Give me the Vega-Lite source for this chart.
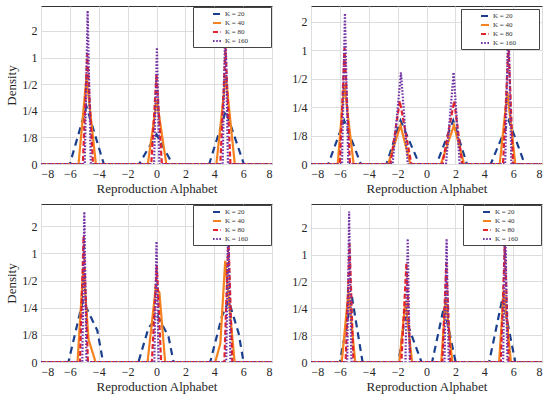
{
  "$schema": "https://vega.github.io/schema/vega-lite/v6.json",
  "background": "white",
  "padding": 5,
  "config": {
    "font": "Liberation Serif",
    "view": {"stroke": "#333333", "strokeWidth": 1},
    "axis": {
      "labelFont": "Liberation Serif", "titleFont": "Liberation Serif",
      "labelFontSize": 12, "titleFontSize": 13, "titleFontWeight": "normal",
      "labelColor": "#262626", "titleColor": "#262626",
      "gridColor": "#dddddd", "gridWidth": 1,
      "domain": false, "ticks": false, "labelPadding": 4, "titlePadding": 3
    },
    "legend": {
      "orient": "top-right", "offset": 1, "title": null,
      "fillColor": "white", "strokeColor": "#444444",
      "padding": 2, "rowPadding": 0,
      "symbolType": "stroke", "symbolStrokeWidth": 2, "symbolSize": 64,
      "labelFont": "Liberation Serif", "labelFontSize": 7, "labelColor": "#333333"
    }
  },
  "datasets": {
    "d": [
      {"p":"a","k":"K = 20","x":-8,"d":0},{"p":"a","k":"K = 20","x":-6.0,"d":0},{"p":"a","k":"K = 20","x":-4.85,"d":0.28},{"p":"a","k":"K = 20","x":-3.65,"d":0},{"p":"a","k":"K = 20","x":-1.2,"d":0},{"p":"a","k":"K = 20","x":0.0,"d":0.135},{"p":"a","k":"K = 20","x":1.1,"d":0},{"p":"a","k":"K = 20","x":3.65,"d":0},{"p":"a","k":"K = 20","x":4.8,"d":0.25},{"p":"a","k":"K = 20","x":6.05,"d":0},{"p":"a","k":"K = 20","x":8,"d":0},
      {"p":"a","k":"K = 40","x":-8,"d":0},{"p":"a","k":"K = 40","x":-5.4,"d":0},{"p":"a","k":"K = 40","x":-4.85,"d":0.6},{"p":"a","k":"K = 40","x":-4.2,"d":0},{"p":"a","k":"K = 40","x":-0.6,"d":0},{"p":"a","k":"K = 40","x":0.02,"d":0.33},{"p":"a","k":"K = 40","x":0.68,"d":0},{"p":"a","k":"K = 40","x":4.15,"d":0},{"p":"a","k":"K = 40","x":4.8,"d":0.62},{"p":"a","k":"K = 40","x":5.42,"d":0},{"p":"a","k":"K = 40","x":8,"d":0},
      {"p":"a","k":"K = 80","x":-8,"d":0},{"p":"a","k":"K = 80","x":-5.1,"d":0},{"p":"a","k":"K = 80","x":-4.8,"d":1.1},{"p":"a","k":"K = 80","x":-4.4,"d":0},{"p":"a","k":"K = 80","x":-0.36,"d":0},{"p":"a","k":"K = 80","x":0.0,"d":0.65},{"p":"a","k":"K = 80","x":0.37,"d":0},{"p":"a","k":"K = 80","x":4.42,"d":0},{"p":"a","k":"K = 80","x":4.78,"d":1.3},{"p":"a","k":"K = 80","x":5.12,"d":0},{"p":"a","k":"K = 80","x":8,"d":0},
      {"p":"a","k":"K = 160","x":-8,"d":0},{"p":"a","k":"K = 160","x":-4.97,"d":0},{"p":"a","k":"K = 160","x":-4.77,"d":3.4},{"p":"a","k":"K = 160","x":-4.55,"d":0},{"p":"a","k":"K = 160","x":-0.17,"d":0},{"p":"a","k":"K = 160","x":0.03,"d":1.3},{"p":"a","k":"K = 160","x":0.2,"d":0},{"p":"a","k":"K = 160","x":4.58,"d":0},{"p":"a","k":"K = 160","x":4.77,"d":3.0},{"p":"a","k":"K = 160","x":4.95,"d":0},{"p":"a","k":"K = 160","x":8,"d":0},

      {"p":"b","k":"K = 20","x":-8,"d":0},{"p":"b","k":"K = 20","x":-6.8,"d":0},{"p":"b","k":"K = 20","x":-5.7,"d":0.18},{"p":"b","k":"K = 20","x":-4.55,"d":0},{"p":"b","k":"K = 20","x":-2.77,"d":0},{"p":"b","k":"K = 20","x":-1.8,"d":0.18},{"p":"b","k":"K = 20","x":-0.5,"d":0},{"p":"b","k":"K = 20","x":0.7,"d":0},{"p":"b","k":"K = 20","x":1.85,"d":0.18},{"p":"b","k":"K = 20","x":2.8,"d":0},{"p":"b","k":"K = 20","x":4.45,"d":0},{"p":"b","k":"K = 20","x":5.7,"d":0.18},{"p":"b","k":"K = 20","x":6.8,"d":0},{"p":"b","k":"K = 20","x":8,"d":0},
      {"p":"b","k":"K = 40","x":-8,"d":0},{"p":"b","k":"K = 40","x":-6.15,"d":0},{"p":"b","k":"K = 40","x":-5.7,"d":0.44},{"p":"b","k":"K = 40","x":-5.05,"d":0},{"p":"b","k":"K = 40","x":-2.65,"d":0},{"p":"b","k":"K = 40","x":-1.8,"d":0.16},{"p":"b","k":"K = 40","x":-1.12,"d":0},{"p":"b","k":"K = 40","x":1.0,"d":0},{"p":"b","k":"K = 40","x":1.9,"d":0.16},{"p":"b","k":"K = 40","x":2.6,"d":0},{"p":"b","k":"K = 40","x":5.07,"d":0},{"p":"b","k":"K = 40","x":5.6,"d":0.36},{"p":"b","k":"K = 40","x":6.15,"d":0},{"p":"b","k":"K = 40","x":8,"d":0},
      {"p":"b","k":"K = 80","x":-8,"d":0},{"p":"b","k":"K = 80","x":-6.0,"d":0},{"p":"b","k":"K = 80","x":-5.68,"d":1.05},{"p":"b","k":"K = 80","x":-5.3,"d":0},{"p":"b","k":"K = 80","x":-2.5,"d":0},{"p":"b","k":"K = 80","x":-1.85,"d":0.29},{"p":"b","k":"K = 80","x":-1.05,"d":0},{"p":"b","k":"K = 80","x":1.1,"d":0},{"p":"b","k":"K = 80","x":1.92,"d":0.29},{"p":"b","k":"K = 80","x":2.47,"d":0},{"p":"b","k":"K = 80","x":5.3,"d":0},{"p":"b","k":"K = 80","x":5.68,"d":1.1},{"p":"b","k":"K = 80","x":6.0,"d":0},{"p":"b","k":"K = 80","x":8,"d":0},
      {"p":"b","k":"K = 160","x":-8,"d":0},{"p":"b","k":"K = 160","x":-5.85,"d":0},{"p":"b","k":"K = 160","x":-5.65,"d":2.44},{"p":"b","k":"K = 160","x":-5.42,"d":0},{"p":"b","k":"K = 160","x":-2.35,"d":0},{"p":"b","k":"K = 160","x":-1.77,"d":0.58},{"p":"b","k":"K = 160","x":-1.3,"d":0},{"p":"b","k":"K = 160","x":1.35,"d":0},{"p":"b","k":"K = 160","x":1.88,"d":0.58},{"p":"b","k":"K = 160","x":2.3,"d":0},{"p":"b","k":"K = 160","x":5.45,"d":0},{"p":"b","k":"K = 160","x":5.67,"d":2.4},{"p":"b","k":"K = 160","x":5.88,"d":0},{"p":"b","k":"K = 160","x":8,"d":0},

      {"p":"c","k":"K = 20","x":-8,"d":0},{"p":"c","k":"K = 20","x":-6.1,"d":0},{"p":"c","k":"K = 20","x":-5.1,"d":0.3},{"p":"c","k":"K = 20","x":-4.1,"d":0.14},{"p":"c","k":"K = 20","x":-3.7,"d":0},{"p":"c","k":"K = 20","x":-1.25,"d":0},{"p":"c","k":"K = 20","x":-0.55,"d":0.15},{"p":"c","k":"K = 20","x":0.1,"d":0.2},{"p":"c","k":"K = 20","x":0.83,"d":0.12},{"p":"c","k":"K = 20","x":1.18,"d":0},{"p":"c","k":"K = 20","x":3.72,"d":0},{"p":"c","k":"K = 20","x":4.53,"d":0.2},{"p":"c","k":"K = 20","x":5.0,"d":0.3},{"p":"c","k":"K = 20","x":5.69,"d":0.13},{"p":"c","k":"K = 20","x":6.03,"d":0},{"p":"c","k":"K = 20","x":8,"d":0},
      {"p":"c","k":"K = 40","x":-8,"d":0},{"p":"c","k":"K = 40","x":-5.47,"d":0},{"p":"c","k":"K = 40","x":-5.07,"d":0.7},{"p":"c","k":"K = 40","x":-4.7,"d":0.11},{"p":"c","k":"K = 40","x":-4.22,"d":0},{"p":"c","k":"K = 40","x":-0.62,"d":0},{"p":"c","k":"K = 40","x":-0.05,"d":0.42},{"p":"c","k":"K = 40","x":0.2,"d":0.37},{"p":"c","k":"K = 40","x":0.6,"d":0},{"p":"c","k":"K = 40","x":4.07,"d":0},{"p":"c","k":"K = 40","x":4.42,"d":0.1},{"p":"c","k":"K = 40","x":4.76,"d":0.83},{"p":"c","k":"K = 40","x":5.41,"d":0},{"p":"c","k":"K = 40","x":8,"d":0},
      {"p":"c","k":"K = 80","x":-8,"d":0},{"p":"c","k":"K = 80","x":-5.3,"d":0},{"p":"c","k":"K = 80","x":-5.05,"d":1.55},{"p":"c","k":"K = 80","x":-4.75,"d":0},{"p":"c","k":"K = 80","x":-0.32,"d":0},{"p":"c","k":"K = 80","x":0.02,"d":0.73},{"p":"c","k":"K = 80","x":0.32,"d":0},{"p":"c","k":"K = 80","x":4.7,"d":0},{"p":"c","k":"K = 80","x":4.98,"d":1.5},{"p":"c","k":"K = 80","x":5.25,"d":0},{"p":"c","k":"K = 80","x":8,"d":0},
      {"p":"c","k":"K = 160","x":-8,"d":0},{"p":"c","k":"K = 160","x":-5.14,"d":0},{"p":"c","k":"K = 160","x":-5.0,"d":2.9},{"p":"c","k":"K = 160","x":-4.85,"d":0},{"p":"c","k":"K = 160","x":-0.15,"d":0},{"p":"c","k":"K = 160","x":0.0,"d":1.36},{"p":"c","k":"K = 160","x":0.15,"d":0},{"p":"c","k":"K = 160","x":4.83,"d":0},{"p":"c","k":"K = 160","x":4.97,"d":2.9},{"p":"c","k":"K = 160","x":5.12,"d":0},{"p":"c","k":"K = 160","x":8,"d":0},

      {"p":"d","k":"K = 20","x":-8,"d":0},{"p":"d","k":"K = 20","x":-6.0,"d":0},{"p":"d","k":"K = 20","x":-5.17,"d":0.34},{"p":"d","k":"K = 20","x":-4.43,"d":0},{"p":"d","k":"K = 20","x":-1.93,"d":0},{"p":"d","k":"K = 20","x":-1.5,"d":0.2},{"p":"d","k":"K = 20","x":-0.35,"d":0},{"p":"d","k":"K = 20","x":0.39,"d":0},{"p":"d","k":"K = 20","x":1.21,"d":0.26},{"p":"d","k":"K = 20","x":2.02,"d":0},{"p":"d","k":"K = 20","x":4.34,"d":0},{"p":"d","k":"K = 20","x":5.27,"d":0.33},{"p":"d","k":"K = 20","x":6.15,"d":0},{"p":"d","k":"K = 20","x":8,"d":0},
      {"p":"d","k":"K = 40","x":-8,"d":0},{"p":"d","k":"K = 40","x":-5.87,"d":0},{"p":"d","k":"K = 40","x":-5.4,"d":0.39},{"p":"d","k":"K = 40","x":-4.94,"d":0},{"p":"d","k":"K = 40","x":-1.88,"d":0},{"p":"d","k":"K = 40","x":-1.46,"d":0.3},{"p":"d","k":"K = 40","x":-1.0,"d":0},{"p":"d","k":"K = 40","x":1.02,"d":0},{"p":"d","k":"K = 40","x":1.33,"d":0.32},{"p":"d","k":"K = 40","x":1.79,"d":0},{"p":"d","k":"K = 40","x":5.03,"d":0},{"p":"d","k":"K = 40","x":5.35,"d":0.4},{"p":"d","k":"K = 40","x":5.85,"d":0},{"p":"d","k":"K = 40","x":8,"d":0},
      {"p":"d","k":"K = 80","x":-8,"d":0},{"p":"d","k":"K = 80","x":-5.6,"d":0},{"p":"d","k":"K = 80","x":-5.33,"d":1.32},{"p":"d","k":"K = 80","x":-5.06,"d":0},{"p":"d","k":"K = 80","x":-1.74,"d":0},{"p":"d","k":"K = 80","x":-1.39,"d":0.8},{"p":"d","k":"K = 80","x":-1.11,"d":0},{"p":"d","k":"K = 80","x":1.1,"d":0},{"p":"d","k":"K = 80","x":1.37,"d":0.8},{"p":"d","k":"K = 80","x":1.65,"d":0},{"p":"d","k":"K = 80","x":5.15,"d":0},{"p":"d","k":"K = 80","x":5.42,"d":1.3},{"p":"d","k":"K = 80","x":5.7,"d":0},{"p":"d","k":"K = 80","x":8,"d":0},
      {"p":"d","k":"K = 160","x":-8,"d":0},{"p":"d","k":"K = 160","x":-5.49,"d":0},{"p":"d","k":"K = 160","x":-5.36,"d":3.03},{"p":"d","k":"K = 160","x":-5.2,"d":0},{"p":"d","k":"K = 160","x":-1.46,"d":0},{"p":"d","k":"K = 160","x":-1.3,"d":1.5},{"p":"d","k":"K = 160","x":-1.16,"d":0},{"p":"d","k":"K = 160","x":1.25,"d":0},{"p":"d","k":"K = 160","x":1.39,"d":1.5},{"p":"d","k":"K = 160","x":1.54,"d":0},{"p":"d","k":"K = 160","x":5.31,"d":0},{"p":"d","k":"K = 160","x":5.45,"d":3.0},{"p":"d","k":"K = 160","x":5.6,"d":0},{"p":"d","k":"K = 160","x":8,"d":0}
    ]
  },
  "columns": 2,
  "spacing": {"row": 7, "column": 18},
  "resolve": {"scale": {"color": "independent", "strokeDash": "independent"}, "legend": {"color": "independent", "strokeDash": "independent"}},
  "concat": [
    {
      "width": 231, "height": 158,
      "data": {"name": "d"},
      "transform": [{"filter": "datum.p === 'a'"}],
      "mark": {"type": "line", "strokeWidth": 2.2, "strokeCap": "butt", "clip": true},
      "encoding": {
        "x": {"field": "x", "type": "quantitative", "scale": {"domain": [-8, 8], "nice": false, "zero": false}, "axis": {"values": [-8,-6,-4,-2,0,2,4,6,8], "title": "Reproduction Alphabet"}},
        "y": {"field": "d", "type": "quantitative", "scale": {"type": "log", "domain": [0.0625, 3.83], "clamp": true, "nice": false}, "axis": {"values": [0.0625,0.125,0.25,0.5,1,2], "labelExpr": "datum.value < 0.1 ? '0' : datum.value < 0.2 ? '1/8' : datum.value < 0.4 ? '1/4' : datum.value < 0.7 ? '1/2' : datum.value < 1.5 ? '1' : '2'", "title": "Density"}},
        "color": {"field": "k", "type": "nominal", "scale": {"domain": ["K = 20","K = 40","K = 80","K = 160"], "range": ["#1b3f8f","#f5821f","#e3222a","#7232a4"]}, "legend": {"symbolType": "M 3.25 0 L 5.25 0", "labelOffset": 20, "labelExpr": "datum.label + '\u2800\u2800\u2800\u2800'"}},
        "strokeDash": {"field": "k", "type": "nominal", "scale": {"domain": ["K = 20","K = 40","K = 80","K = 160"], "range": [[7,5],[1,0],[5,2.5],[1.6,1.6]]}, "legend": {"symbolType": "M 3.25 0 L 5.25 0", "labelOffset": 20, "labelExpr": "datum.label + '\u2800\u2800\u2800\u2800'"}}
      }
    },
    {
      "width": 231, "height": 158,
      "data": {"name": "d"},
      "transform": [{"filter": "datum.p === 'b'"}],
      "mark": {"type": "line", "strokeWidth": 2.2, "strokeCap": "butt", "clip": true},
      "encoding": {
        "x": {"field": "x", "type": "quantitative", "scale": {"domain": [-8, 8], "nice": false, "zero": false}, "axis": {"values": [-8,-6,-4,-2,0,2,4,6,8], "title": "Reproduction Alphabet"}},
        "y": {"field": "d", "type": "quantitative", "scale": {"type": "log", "domain": [0.0625, 2.92], "clamp": true, "nice": false}, "axis": {"values": [0.0625,0.125,0.25,0.5,1,2], "labelExpr": "datum.value < 0.1 ? '0' : datum.value < 0.2 ? '1/8' : datum.value < 0.4 ? '1/4' : datum.value < 0.7 ? '1/2' : datum.value < 1.5 ? '1' : '2'", "title": null}},
        "color": {"field": "k", "type": "nominal", "scale": {"domain": ["K = 20","K = 40","K = 80","K = 160"], "range": ["#1b3f8f","#f5821f","#e3222a","#7232a4"]}, "legend": {"offset": 3, "symbolType": "M 3.25 0 L 5.25 0", "labelOffset": 20, "labelExpr": "datum.label + '\u2800\u2800\u2800\u2800'"}},
        "strokeDash": {"field": "k", "type": "nominal", "scale": {"domain": ["K = 20","K = 40","K = 80","K = 160"], "range": [[7,5],[1,0],[5,2.5],[1.6,1.6]]}, "legend": {"offset": 3, "symbolType": "M 3.25 0 L 5.25 0", "labelOffset": 20, "labelExpr": "datum.label + '\u2800\u2800\u2800\u2800'"}}
      }
    },
    {
      "width": 231, "height": 158,
      "data": {"name": "d"},
      "transform": [{"filter": "datum.p === 'c'"}],
      "mark": {"type": "line", "strokeWidth": 2.2, "strokeCap": "butt", "clip": true},
      "encoding": {
        "x": {"field": "x", "type": "quantitative", "scale": {"domain": [-8, 8], "nice": false, "zero": false}, "axis": {"values": [-8,-6,-4,-2,0,2,4,6,8], "title": "Reproduction Alphabet"}},
        "y": {"field": "d", "type": "quantitative", "scale": {"type": "log", "domain": [0.0625, 3.54], "clamp": true, "nice": false}, "axis": {"values": [0.0625,0.125,0.25,0.5,1,2], "labelExpr": "datum.value < 0.1 ? '0' : datum.value < 0.2 ? '1/8' : datum.value < 0.4 ? '1/4' : datum.value < 0.7 ? '1/2' : datum.value < 1.5 ? '1' : '2'", "title": "Density"}},
        "color": {"field": "k", "type": "nominal", "scale": {"domain": ["K = 20","K = 40","K = 80","K = 160"], "range": ["#1b3f8f","#f5821f","#e3222a","#7232a4"]}, "legend": {"symbolType": "M 3.25 0 L 5.25 0", "labelOffset": 20, "labelExpr": "datum.label + '\u2800\u2800\u2800\u2800'"}},
        "strokeDash": {"field": "k", "type": "nominal", "scale": {"domain": ["K = 20","K = 40","K = 80","K = 160"], "range": [[7,5],[1,0],[5,2.5],[1.6,1.6]]}, "legend": {"symbolType": "M 3.25 0 L 5.25 0", "labelOffset": 20, "labelExpr": "datum.label + '\u2800\u2800\u2800\u2800'"}}
      }
    },
    {
      "width": 231, "height": 158,
      "data": {"name": "d"},
      "transform": [{"filter": "datum.p === 'd'"}],
      "mark": {"type": "line", "strokeWidth": 2.2, "strokeCap": "butt", "clip": true},
      "encoding": {
        "x": {"field": "x", "type": "quantitative", "scale": {"domain": [-8, 8], "nice": false, "zero": false}, "axis": {"values": [-8,-6,-4,-2,0,2,4,6,8], "title": "Reproduction Alphabet"}},
        "y": {"field": "d", "type": "quantitative", "scale": {"type": "log", "domain": [0.0625, 3.68], "clamp": true, "nice": false}, "axis": {"values": [0.0625,0.125,0.25,0.5,1,2], "labelExpr": "datum.value < 0.1 ? '0' : datum.value < 0.2 ? '1/8' : datum.value < 0.4 ? '1/4' : datum.value < 0.7 ? '1/2' : datum.value < 1.5 ? '1' : '2'", "title": null}},
        "color": {"field": "k", "type": "nominal", "scale": {"domain": ["K = 20","K = 40","K = 80","K = 160"], "range": ["#1b3f8f","#f5821f","#e3222a","#7232a4"]}, "legend": {"symbolType": "M 3.25 0 L 5.25 0", "labelOffset": 20, "labelExpr": "datum.label + '\u2800\u2800\u2800\u2800'"}},
        "strokeDash": {"field": "k", "type": "nominal", "scale": {"domain": ["K = 20","K = 40","K = 80","K = 160"], "range": [[7,5],[1,0],[5,2.5],[1.6,1.6]]}, "legend": {"symbolType": "M 3.25 0 L 5.25 0", "labelOffset": 20, "labelExpr": "datum.label + '\u2800\u2800\u2800\u2800'"}}
      }
    }
  ]
}
